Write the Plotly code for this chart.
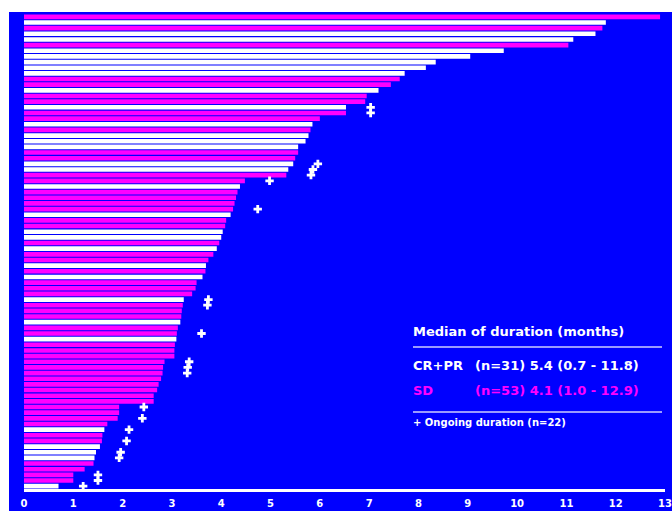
import plotly.graph_objects as go

# Response duration per patient (months), longest first
durations = [12.9, 11.8, 11.73, 11.59, 11.14, 11.04, 9.73, 9.05, 8.35, 8.15,
             7.72, 7.62, 7.44, 7.19, 6.95, 6.92, 6.53, 6.53, 6.0, 5.85,
             5.81, 5.77, 5.71, 5.56, 5.56, 5.5, 5.46, 5.36, 5.32, 4.48,
             4.38, 4.33, 4.3, 4.27, 4.24, 4.19, 4.1, 4.08, 4.03, 4.0,
             3.96, 3.91, 3.84, 3.74, 3.69, 3.68, 3.62, 3.5, 3.48, 3.41,
             3.24, 3.22, 3.2, 3.19, 3.17, 3.12, 3.1, 3.09, 3.06, 3.05,
             3.05, 2.85, 2.82, 2.81, 2.78, 2.73, 2.7, 2.63, 2.63, 1.93,
             1.93, 1.9, 1.69, 1.63, 1.59, 1.58, 1.54, 1.46, 1.43, 1.41,
             1.23, 1.0, 1.0, 0.7]

# Best response per patient: C = CR+PR, S = SD
response_codes = ("S C S C C S C C C C "
                  "C S S C S S C S S C "
                  "S C C C S S C C S S "
                  "C S S S S C S S C C "
                  "S C S S C S C S S S "
                  "C S S S C S S C S S "
                  "S S S S S S S S S S "
                  "S S S C S S C C C S "
                  "S S S C").split()
response = ["CR+PR" if c == "C" else "SD" for c in response_codes]

# Patients whose response is still ongoing (1-based rank)
ongoing = [17, 18, 27, 28, 29, 30, 35, 51, 52, 57, 62, 63, 64, 70, 72, 74,
           76, 78, 79, 82, 83, 84]

x_ticks = list(range(0, 14))

BLUE = "#0000FF"
MAGENTA = "#FF00FF"
WHITE = "#FFFFFF"
FONT = "DejaVu Sans"
MARK_GAP = 0.5  # cross drawn just past the end of the bar

W, H = 672, 511
ML, MR, MT, MB = 24, 7, 14, 22
PW, PH = W - ML - MR, H - MT - MB

rank = list(range(len(durations)))

fig = go.Figure()
for grp, col in (("CR+PR", WHITE), ("SD", MAGENTA)):
    xs = [d for d, r in zip(durations, response) if r == grp]
    ys = [i for i, r in zip(rank, response) if r == grp]
    fig.add_trace(go.Bar(x=xs, y=ys, orientation="h", name=grp,
                         marker=dict(color=col, line=dict(width=0)),
                         width=0.82, showlegend=False))

fig.add_trace(go.Scatter(
    x=[durations[i - 1] + MARK_GAP for i in ongoing],
    y=[i - 1 for i in ongoing],
    mode="markers",
    marker=dict(symbol="cross", size=7, color=WHITE, line=dict(width=0)),
    showlegend=False))


def px(x):
    return (x - ML) / PW


def py(y):
    return (MT + PH - y) / PH


annotations = []


def label(x, y, text, size, color=WHITE):
    annotations.append(dict(x=px(x), y=py(y), xref="paper", yref="paper",
                            text="<b>" + text + "</b>", showarrow=False,
                            xanchor="left", yanchor="middle", borderpad=0,
                            font=dict(family=FONT, size=size, color=color)))


label(412, 331, "Median of duration (months)", 13)
label(412, 365, "CR+PR", 13)
label(474, 365, "(n=31) 5.4 (0.7 - 11.8)", 13)
label(412, 390, "SD", 13, MAGENTA)
label(474, 390, "(n=53) 4.1 (1.0 - 12.9)", 13, MAGENTA)
label(412, 422, "+ Ongoing duration (n=22)", 10)

shapes = []
# blue panel inset from the white top and left page edges
shapes.append(dict(type="rect", xref="paper", yref="paper", layer="below",
                   x0=px(9), x1=px(W), y0=py(12), y1=py(H),
                   fillcolor=BLUE, line=dict(width=0)))
for yy in (347, 412):
    shapes.append(dict(type="line", xref="paper", yref="paper",
                       x0=px(413), x1=px(662), y0=py(yy), y1=py(yy),
                       line=dict(color="#9A9AFF", width=2)))

fig.update_layout(
    width=W, height=H,
    margin=dict(l=ML, r=MR, t=MT, b=MB, pad=0, autoexpand=False),
    paper_bgcolor=WHITE, plot_bgcolor=BLUE,
    barmode="overlay",
    xaxis=dict(range=[0, 13], tickvals=x_ticks,
               ticktext=["<b>%d</b>" % t for t in x_ticks],
               showgrid=False, zeroline=False, showline=True,
               linecolor=WHITE, linewidth=3, ticks="outside", ticklen=3,
               tickcolor=BLUE, tickwidth=0, automargin=False,
               tickfont=dict(family=FONT, size=10, color=WHITE)),
    yaxis=dict(range=[len(durations) - 0.5, -0.5], visible=False,
               showgrid=False, zeroline=False, automargin=False),
    annotations=annotations,
    shapes=shapes,
)

fig.write_html("out.html")
